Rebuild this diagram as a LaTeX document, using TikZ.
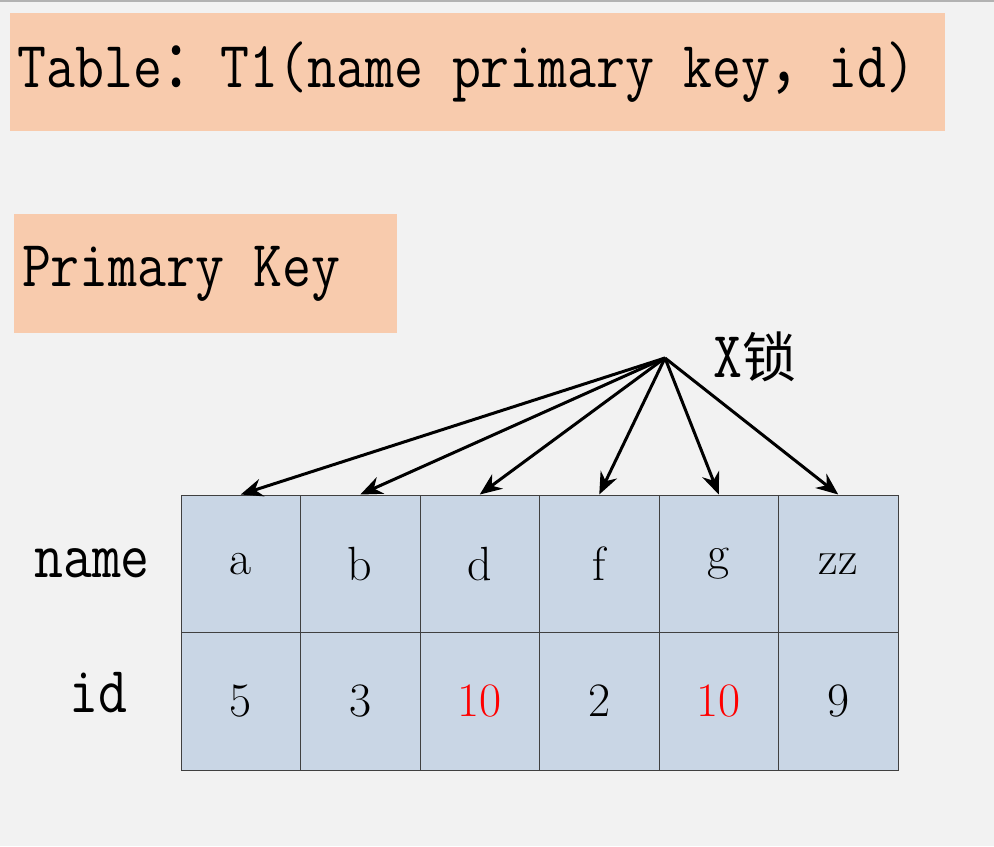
\documentclass[tikz,border=0pt]{standalone}
\usepackage{fontspec}
\usepackage{graphicx}
\usepackage{xcolor}
\usetikzlibrary{arrows.meta,positioning}
\newfontfamily\cjkfont{Noto Sans CJK SC}
\definecolor{peach}{HTML}{F8CBAD}
\definecolor{cellblue}{HTML}{C9D6E5}
\definecolor{paper}{HTML}{F2F2F2}
\newcommand{\tallmono}[1]{\scalebox{1}[1.17]{\ttfamily\fontsize{28.1}{28}\selectfont #1}}
\newcommand{\wide}[1]{\makebox[1.028em][l]{\cjkfont #1}}
\newcommand{\hot}[1]{\textcolor{red}{#1}}

\begin{document}
\begin{tikzpicture}[x=0.5pt, y=-0.5pt, >={Stealth[length=11pt,width=9pt]}]
        \tikzstyle{banner}=[fill=peach, inner xsep=4pt, inner ysep=0pt]
        \tikzstyle{cell}=[draw=black!75, line width=0.5pt, fill=cellblue, minimum width=59.75pt, minimum height=69pt, inner sep=0pt, font=\fontsize{24}{24}\selectfont]
        \useasboundingbox (0,0) rectangle (994,846);
        \fill[paper] (0,0) rectangle (994,846);
        \draw[black!30, line width=1pt] (0,1) -- (994,1);

        \node[banner, minimum width=467.5pt, minimum height=59pt] (T) at (477.5,72) {\makebox[459.5pt][l]{\tallmono{Table\wide{：}T1(name primary key\wide{，}id)}}};
        \node[banner, minimum width=191.5pt, minimum height=59.5pt] (P) at (205.5,273.5) {\makebox[183.5pt][l]{\tallmono{Primary Key}}};

        % table cells: name row and id row
        \foreach \nm/\val [count=\i] in {a/5, b/3, d/\hot{10}, f/2, g/\hot{10}, zz/9} {
            \node[cell] (N\i) at ({181+119.5*(\i-0.5)},564) {\nm};
            \node[cell] (V\i) at ({181+119.5*(\i-0.5)},701) {\val};
        }
        \node (NAME) at (92,563) {\tallmono{name}};
        \node (ID)   at (98,693) {\tallmono{id}};

        \node (X) at (755,357) {\tallmono{X}{\cjkfont\fontsize{27}{27}\selectfont 锁}};
        \coordinate (S) at (665,358);
        \foreach \i in {1,...,6}
            \draw[->, line width=1.5pt] (S) -- (N\i.north);
    \end{tikzpicture}
\end{document}
